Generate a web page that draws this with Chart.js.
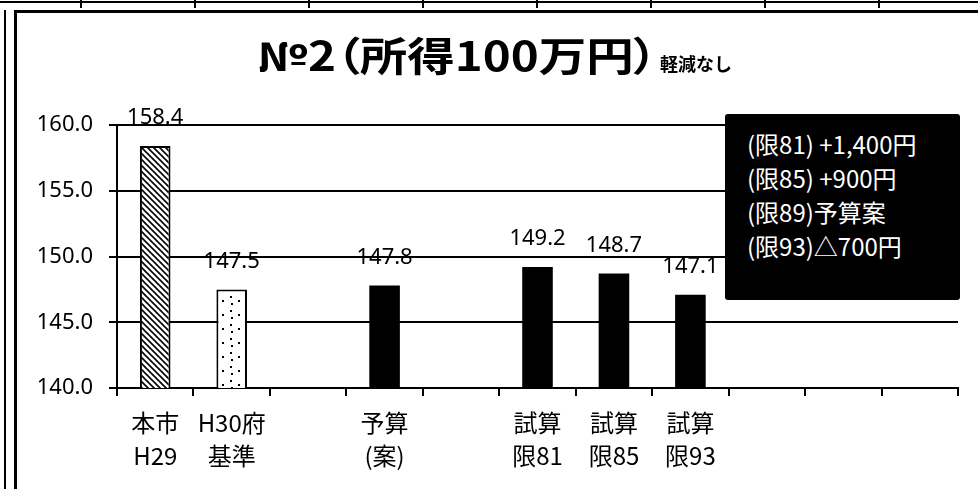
<!DOCTYPE html>
<html>
<head>
<meta charset="utf-8">
<script src="https://cdn.jsdelivr.net/npm/chart.js@4"></script>
<style>
  html, body { margin: 0; padding: 0; background: #fff; }
  #wrap { position: relative; width: 978px; height: 489px; overflow: hidden; }
  #crowd { position: absolute; left: 0; top: 0; }
  .topline { position: absolute; left: 0; top: 1px; width: 978px; height: 2px; background: #000; }
  .seg { position: absolute; top: 0; width: 2px; height: 8px; background: #000; }
  .outer { position: absolute; left: 4px; top: 10px; width: 2px; bottom: 0; background: #000; }
  .frame { position: absolute; left: 14px; top: 10px; width: 990px; height: 500px; border-left: 3px solid #000; border-top: 3px solid #000; }
  .ttl { position: absolute; white-space: nowrap; font-family: "Noto Sans CJK JP"; font-weight: 700; color: #000; line-height: 1; }
  #titleBig { left: 257px; top: 34px; font-size: 40px; font-feature-settings: "palt"; transform-origin: 0 0; }
  #titleSmall { left: 660px; top: 54px; font-size: 18px; }
  #note { position: absolute; left: 725px; top: 114px; width: 213px; height: 173px; padding: 13px 0 0 22px; background: #000; border-radius: 3px; color: #fff; font-family: "Noto Sans CJK JP"; font-size: 24px; line-height: 34px; white-space: nowrap; }
</style>
</head>
<body>
<div id="wrap">
  <canvas id="crowd" width="978" height="489"></canvas>
  <div class="topline"></div>
  <div class="seg" style="left:80px"></div>
  <div class="seg" style="left:194px"></div>
  <div class="seg" style="left:308px"></div>
  <div class="seg" style="left:422px"></div>
  <div class="seg" style="left:536px"></div>
  <div class="seg" style="left:650px"></div>
  <div class="seg" style="left:764px"></div>
  <div class="seg" style="left:878px"></div>
  <div class="outer"></div>
  <div class="frame"></div>
  <div id="titleBig" class="ttl">№2（所得100万円）</div>
  <div id="titleSmall" class="ttl">軽減なし</div>
  <div id="note">
    (限81) +1,400円<br>
    (限85) +900円<br>
    (限89)予算案<br>
    (限93)△700円
  </div>
</div>
<script>
const labels = [
    ["本市", "H29"],
    ["H30府", "基準"],
    "",
    ["予算", "(案)"],
    "",
    ["試算", "限81"],
    ["試算", "限85"],
    ["試算", "限93"],
    "",
    "",
    ""
];
const values = [158.4, 147.5, null, 147.8, null, 149.2, 148.7, 147.1, null, null, null];
const yTickValues = [140, 145, 150, 155, 160];

// the title in the picture is a wide bold face, stretch ours to the same width
const titleBig = document.getElementById("titleBig");
titleBig.style.transform = "scaleX(" + (400 / titleBig.offsetWidth) + ")";

// hatched fill for the first bar
function makeHatch(){
    const c = document.createElement("canvas");
    c.width = 6;
    c.height = 6;
    const g = c.getContext("2d");
    g.fillStyle = "#fff";
    g.fillRect(0, 0, 6, 6);
    g.strokeStyle = "#000";
    g.lineWidth = 1.6;
    g.beginPath();
    g.moveTo(-1, -1); g.lineTo(7, 7);
    g.moveTo(-1, 5); g.lineTo(1, 7);
    g.moveTo(5, -1); g.lineTo(7, 1);
    g.stroke();
    return g.createPattern(c, "repeat");
}

// sparse dots for the second bar
function makeDots(){
    const c = document.createElement("canvas");
    c.width = 16;
    c.height = 14;
    const g = c.getContext("2d");
    g.fillStyle = "#fff";
    g.fillRect(0, 0, 16, 14);
    g.fillStyle = "#000";
    g.fillRect(6, 2, 2, 2);
    g.fillRect(14, 6, 2, 2);
    g.fillRect(7, 9, 2, 2);
    return g.createPattern(c, "repeat");
}

const fills = values.map((v, i) => i === 0 ? makeHatch() : (i === 1 ? makeDots() : "#000"));
const borders = values.map((v, i) => i < 2 ? 2 : 0);

const valueLabels = {
    id: "valueLabels",
    afterDatasetsDraw(chart){
        const c = chart.ctx;
        const meta = chart.getDatasetMeta(0);
        c.save();
        c.fillStyle = "#000";
        c.font = "22px 'Noto Sans'";
        c.textAlign = "center";
        c.textBaseline = "middle";
        meta.data.forEach((bar, i) => {
            if(values[i] === null) return;
            c.fillText(values[i].toFixed(1), bar.x, bar.y - 28);
        });
        c.restore();
    }
};

const ctx = document.getElementById("crowd");

const chart = new Chart(ctx, {
    type: "bar",
    data: {
        labels: labels,
        datasets: [{
            data: values,
            backgroundColor: fills,
            borderColor: "#000",
            borderWidth: borders,
            borderSkipped: false,
            barPercentage: 0.4,
            categoryPercentage: 1.0
        }]
    },
    options: {
        responsive: false,
        animation: false,
        devicePixelRatio: 1,
        layout: { padding: { top: 125, right: 20, left: 0, bottom: 0 } },
        plugins: {
            legend: { display: false },
            tooltip: { enabled: false }
        },
        scales: {
            x: {
                grid: { drawOnChartArea: false, tickLength: 8, color: "#000", lineWidth: 2, offset: true },
                border: { color: "#000", width: 2 },
                ticks: {
                    color: "#000",
                    font: { family: "Noto Sans CJK JP", size: 24, lineHeight: 1.38 },
                    padding: 10,
                    maxRotation: 0,
                    autoSkip: false
                },
                afterFit: s => { s.height = 101; }
            },
            y: {
                min: 140,
                max: 160,
                afterBuildTicks: s => { s.ticks = yTickValues.map(v => ({ value: v })); },
                grid: { color: "#000", lineWidth: 2, tickLength: 8 },
                border: { color: "#000", width: 2 },
                ticks: {
                    color: "#000",
                    font: { family: "Noto Sans", size: 22 },
                    padding: 16,
                    callback: v => v.toFixed(1)
                },
                afterFit: s => { s.width = 117; }
            }
        }
    },
    plugins: [valueLabels]
});
</script>
</body>
</html>
